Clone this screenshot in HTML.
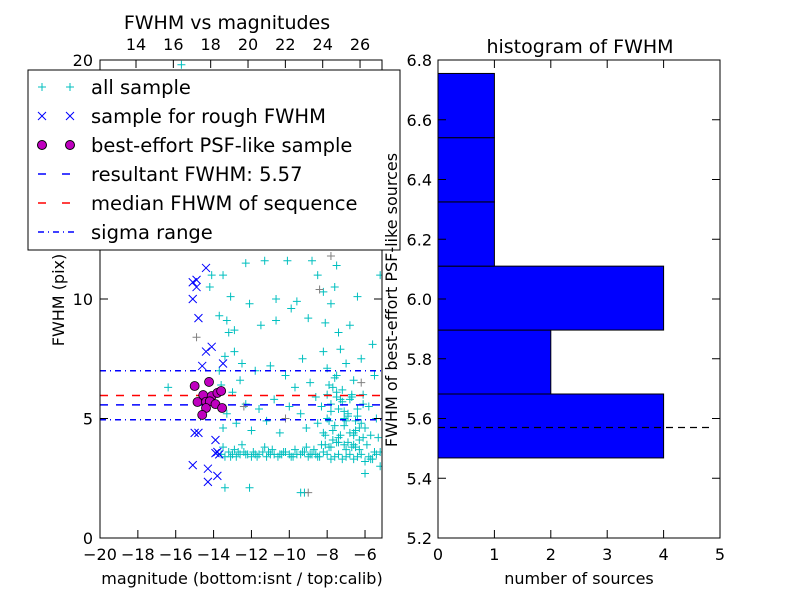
<!DOCTYPE html>
<html><head><meta charset="utf-8"><style>
body{margin:0;background:#fff;}
svg{font-family:"DejaVu Sans","Liberation Sans",sans-serif;}
</style></head><body>
<svg id="c" width="800" height="600"></svg>
<script>
// ---- data ----
const allMag = [-15.7,-14.9,-13.9,-12.3,-11.3,-10.1,-8.8,-8.5,-7.5,-5.2,-14.1,-13.5,-14.2,-13.1,-12.1,-10.7,-9.6,-8.2,-7.6,-7.8,-6.4,-13.7,-13.3,-11.5,-12.9,-10.7,-9.9,-9.0,-8.1,-7.4,-6.8,-5.6,-13.2,
-16.4,-13.7,-13.4,-12.9,-12.5,-11.8,-11.0,-10.2,-9.3,-9.7,-8.9,-8.2,-8.0,-7.6,-7.3,-7.0,-6.6,-6.2,-5.5,-13.6,-13.0,-12.6,-12.3,-11.6,-10.8,-10.0,-9.4,-8.6,-8.3,-8.0,-7.8,-7.5,-7.2,-6.9,-6.7,-6.4,-6.1,-5.8,-5.4,-13.3,-12.8,-13.5,-12.0,-11.2,-10.5,-9.1,-8.5,-8.1,-7.9,-7.7,-7.4,-7.1,-6.8,-6.5,-6.3,-6.0,-5.7,-5.3,
-13.6,-13.4,-13.2,-13.0,-12.8,-12.6,-12.4,-12.2,-12.0,-11.8,-11.6,-11.4,-11.2,-11.0,-10.8,-10.6,-10.4,-10.2,-10.0,-9.8,-9.6,-9.4,-9.2,-9.0,-8.8,-8.6,-8.4,-8.2,-8.0,-7.8,-7.6,-7.4,-7.2,-7.0,-6.8,-6.6,-6.4,-6.2,-6.0,-5.8,-5.6,-5.4,-5.2,
-13.5,-12.9,-12.5,-11.9,-11.3,-10.9,-10.3,-9.7,-9.1,-8.7,-8.3,-7.9,-7.5,-7.1,-6.7,-6.3,-5.9,-5.5,
-8.0,-7.8,-7.6,-7.4,-7.2,-7.0,-6.8,-6.6,-6.4,-6.2,-8.1,-7.7,-7.3,-6.9,-6.5,-6.1,-7.9,-7.5,-7.1,-6.7,-6.3,-7.8,-7.4,-7.0,-6.6,
-12.1,-9.4,-9.2,-6.0,-13.4,-5.2,
-13.1,-12.7,-12.3,-11.7,-11.1,-10.5,-9.9,-9.3,-8.9,-8.5,-7.3,-6.9,-6.5,-6.1,-5.7,-7.7,-7.1,-6.6,-8.2,-7.5];
const allFwhm = [19.8,12.6,12.3,11.5,11.6,11.6,11.6,11.0,11.4,11.0,11.0,11.0,10.5,10.1,9.8,10.0,9.9,10.3,10.5,9.8,10.1,9.3,9.1,8.9,8.7,9.1,9.6,9.2,9.0,8.6,8.9,8.1,8.6,
6.3,7.0,7.6,7.8,7.3,7.0,7.2,6.8,7.5,6.3,6.5,7.8,7.1,6.7,7.9,7.3,6.6,7.5,6.8,6.4,6.1,6.6,5.6,5.4,5.8,5.5,5.2,5.9,5.5,6.0,5.3,6.1,5.7,5.2,5.9,5.4,6.0,5.5,5.0,5.2,4.8,4.6,4.5,4.9,4.4,4.6,4.8,4.3,4.9,4.5,4.2,4.7,4.4,4.9,4.1,4.6,4.3,4.2,
3.5,3.4,3.6,3.5,3.4,3.5,3.6,3.5,3.4,3.5,3.5,3.6,3.4,3.5,3.5,3.4,3.5,3.6,3.5,3.4,3.5,3.5,3.6,3.4,3.5,3.5,3.4,3.6,3.5,3.3,3.4,3.5,3.3,3.4,3.5,3.3,3.4,3.5,3.2,3.4,3.3,3.5,3.6,
3.8,3.7,3.9,3.6,3.8,3.7,3.6,3.7,3.8,3.7,3.9,3.8,4.0,3.9,3.8,3.7,3.9,3.6,
5.0,5.6,4.7,5.4,6.2,4.9,5.8,4.4,5.1,4.8,3.9,4.1,4.3,4.0,3.8,4.2,6.4,6.8,5.3,6.0,4.6,3.8,4.0,3.7,3.9,
2.1,1.9,1.9,2.7,2.1,3.0,
3.4,3.6,3.5,3.4,3.6,3.5,3.4,3.6,3.5,3.4,5.8,5.1,4.5,5.6,3.3,6.3,5.0,4.3,4.4,5.9];
const grayMag = [-14.9,-12.4,-8.4,-7.8,-10.2,-6.2,-9.0];
const grayFwhm = [8.4,5.5,10.4,11.8,5.0,6.5,1.9];
const roughMag = [-14.4,-15.1,-14.9,-14.9,-15.1,-14.8,-14.1,-14.4,-14.6,-13.5,-15.0,-14.8,-13.9,-13.9,-13.8,-13.7,-15.1,-14.3,-13.8,-14.3];
const roughFwhm = [11.3,10.7,10.8,10.5,10.0,9.2,8.0,7.8,7.2,7.3,4.4,4.4,4.1,3.55,3.6,3.5,3.05,2.9,2.6,2.35];
const psfMag = [-15.0,-14.24,-14.55,-14.1,-13.8,-13.6,-14.85,-14.4,-14.2,-13.9,-13.55,-14.4,-14.6];
const psfFwhm = [6.36,6.53,5.98,5.94,6.07,6.15,5.69,5.7,5.72,5.6,5.44,5.44,5.15];
const resultFwhm = 5.57, medianFwhm = 5.96, sigLo = 4.95, sigHi = 7.0;
const binEdges = [5.468,5.682,5.896,6.11,6.325,6.54,6.755];
const binCounts = [4,2,4,1,1,1];
const xTicksL = [-20,-18,-16,-14,-12,-10,-8,-6];
const topTicks = [14,16,18,20,22,24,26];
const yTicksL = [0,5,10,15,20];
const yTicksR = [5.2,5.4,5.6,5.8,6.0,6.2,6.4,6.6,6.8];
const xTicksR = [0,1,2,3,4,5];

const NS="http://www.w3.org/2000/svg", svg=document.getElementById('c');
function el(t,a,p){const e=document.createElementNS(NS,t);for(const k in a)e.setAttribute(k,a[k]);(p||svg).appendChild(e);return e;}
const lx=m=>100+(m+20)*18.93, ly=f=>538-f*23.9;
const tx=m=>136+(m-14)*18.67;
const rx=c=>438+c*56.4, ry=v=>538-(v-5.2)*298.75;

const gL=el('g',{});
el('rect',{x:100,y:60,width:282,height:478,fill:'#fff'},gL);
function plus(x,y,c,g){el('path',{d:`M${x-4} ${y}h8M${x} ${y-4}v8`,stroke:c,'stroke-width':1,fill:'none'},g);}
function cross(x,y,c,g){el('path',{d:`M${x-4} ${y-4}l8 8M${x-4} ${y+4}l8 -8`,stroke:c,'stroke-width':1,fill:'none'},g);}
const clip=el('clipPath',{id:'cl'});el('rect',{x:100,y:60,width:282,height:478},clip);
const pts=el('g',{'clip-path':'url(#cl)'},gL);

allMag.forEach((m,i)=>plus(lx(m),ly(allFwhm[i]),'#00bfbf',pts));
grayMag.forEach((m,i)=>plus(lx(m),ly(grayFwhm[i]),'#808080',pts));
roughMag.forEach((m,i)=>cross(lx(m),ly(roughFwhm[i]),'#0000ff',pts));
[[sigHi,'6,4,1,4','#0000ff'],[sigLo,'6,4,1,4','#0000ff'],[medianFwhm,'8,8','#ff0000'],[resultFwhm,'8,8','#0000ff']].forEach(a=>{
 const ln=el('line',{x1:100,x2:382,y1:ly(a[0]),y2:ly(a[0]),stroke:a[2],'stroke-width':1.5,'stroke-dasharray':a[1]},pts);
 });
psfMag.forEach((m,i)=>{const c=el('circle',{cx:lx(m),cy:ly(psfFwhm[i]),r:4.5,fill:'#bf00bf',stroke:'#000','stroke-width':0.8},pts);
 });
el('rect',{x:100,y:60,width:282,height:478,fill:'none',stroke:'#000','stroke-width':1},gL);
function txt(x,y,s,a,g,sz){const t=el('text',Object.assign({x:x,y:y,'font-size':sz||16,'text-anchor':'middle'},a||{}),g||svg);t.textContent=s;return t;}
xTicksL.forEach(v=>{const x=lx(v);el('line',{x1:x,x2:x,y1:538,y2:530,stroke:'#000'},gL);
 const t=txt(x,560,(v<0?'\u2212':'')+Math.abs(v),{},gL);});
topTicks.forEach(v=>{const x=tx(v);el('line',{x1:x,x2:x,y1:60,y2:68,stroke:'#000'},gL);
 const t=txt(x,50,v,{},gL);});
yTicksL.forEach(v=>{const y=ly(v);el('line',{x1:100,x2:108,y1:y,y2:y,stroke:'#000'},gL);el('line',{x1:382,x2:374,y1:y,y2:y,stroke:'#000'},gL);
 const t=txt(93,y+6,v,{'text-anchor':'end'},gL);});
let t=txt(227,29,'FWHM vs magnitudes',{},gL,19);
t=txt(242,584,'magnitude (bottom:isnt / top:calib)',{},gL);
t=txt(0,0,'FWHM (pix)',{transform:'translate(64,300) rotate(-90)'},gL);
// legend
const lg=el('g',{});
el('rect',{x:28,y:70,width:372,height:180,fill:'#fff',stroke:'#000'},lg);
const labels=['all sample','sample for rough FWHM','best-effort PSF-like sample','resultant FWHM: 5.57','median FHWM of sequence','sigma range'];
labels.forEach((s,i)=>{const y=87+i*29;
 if(i==0){plus(42,y,'#00bfbf',lg);plus(70,y,'#00bfbf',lg);}
 if(i==1){cross(42,y,'#0000ff',lg);cross(70,y,'#0000ff',lg);}
 if(i==2){el('circle',{cx:42,cy:y,r:4.5,fill:'#bf00bf',stroke:'#000'},lg);el('circle',{cx:70,cy:y,r:4.5,fill:'#bf00bf',stroke:'#000'},lg);}
 if(i==3)el('line',{x1:38,x2:78,y1:y,y2:y,stroke:'#0000ff','stroke-width':1.5,'stroke-dasharray':'8,16'},lg);
 if(i==4)el('line',{x1:38,x2:78,y1:y,y2:y,stroke:'#ff0000','stroke-width':1.5,'stroke-dasharray':'8,16'},lg);
 if(i==5)el('line',{x1:38,x2:78,y1:y,y2:y,stroke:'#0000ff','stroke-width':1.5,'stroke-dasharray':'6,4,1,4'},lg);
 const e=txt(91,y+7,s,{'text-anchor':'start'},lg,19.5);});
// right plot
const gR=el('g',{});
binCounts.forEach((c,i)=>{const y0=ry(binEdges[i]),y1=ry(binEdges[i+1]);if(c>0){
 const b=el('rect',{x:rx(0),y:y1,width:rx(c)-rx(0),height:y0-y1,fill:'#0000ff',stroke:'#000','stroke-width':1},gR);
 }});
const dl=el('line',{x1:438,x2:710,y1:ry(resultFwhm),y2:ry(resultFwhm),stroke:'#000','stroke-width':1.2,'stroke-dasharray':'7,5'},gR);

el('rect',{x:438,y:60,width:282,height:478,fill:'none',stroke:'#000'},gR);
xTicksR.forEach(v=>{const x=rx(v);el('line',{x1:x,x2:x,y1:538,y2:530,stroke:'#000'},gR);el('line',{x1:x,x2:x,y1:60,y2:68,stroke:'#000'},gR);
 const e=txt(x,560,v,{},gR);});
yTicksR.forEach(v=>{const y=ry(v);el('line',{x1:438,x2:446,y1:y,y2:y,stroke:'#000'},gR);el('line',{x1:720,x2:712,y1:y,y2:y,stroke:'#000'},gR);
 const e=txt(432,y+6,v.toFixed(1),{'text-anchor':'end'},gR);});
t=txt(580,53,'histogram of FWHM',{},gR,19);
t=txt(579,584,'number of sources',{},gR);
t=txt(0,0,'FWHM of best-effort PSF-like sources',{transform:'translate(397,300) rotate(-90)'},gR);
</script>
</body></html>
